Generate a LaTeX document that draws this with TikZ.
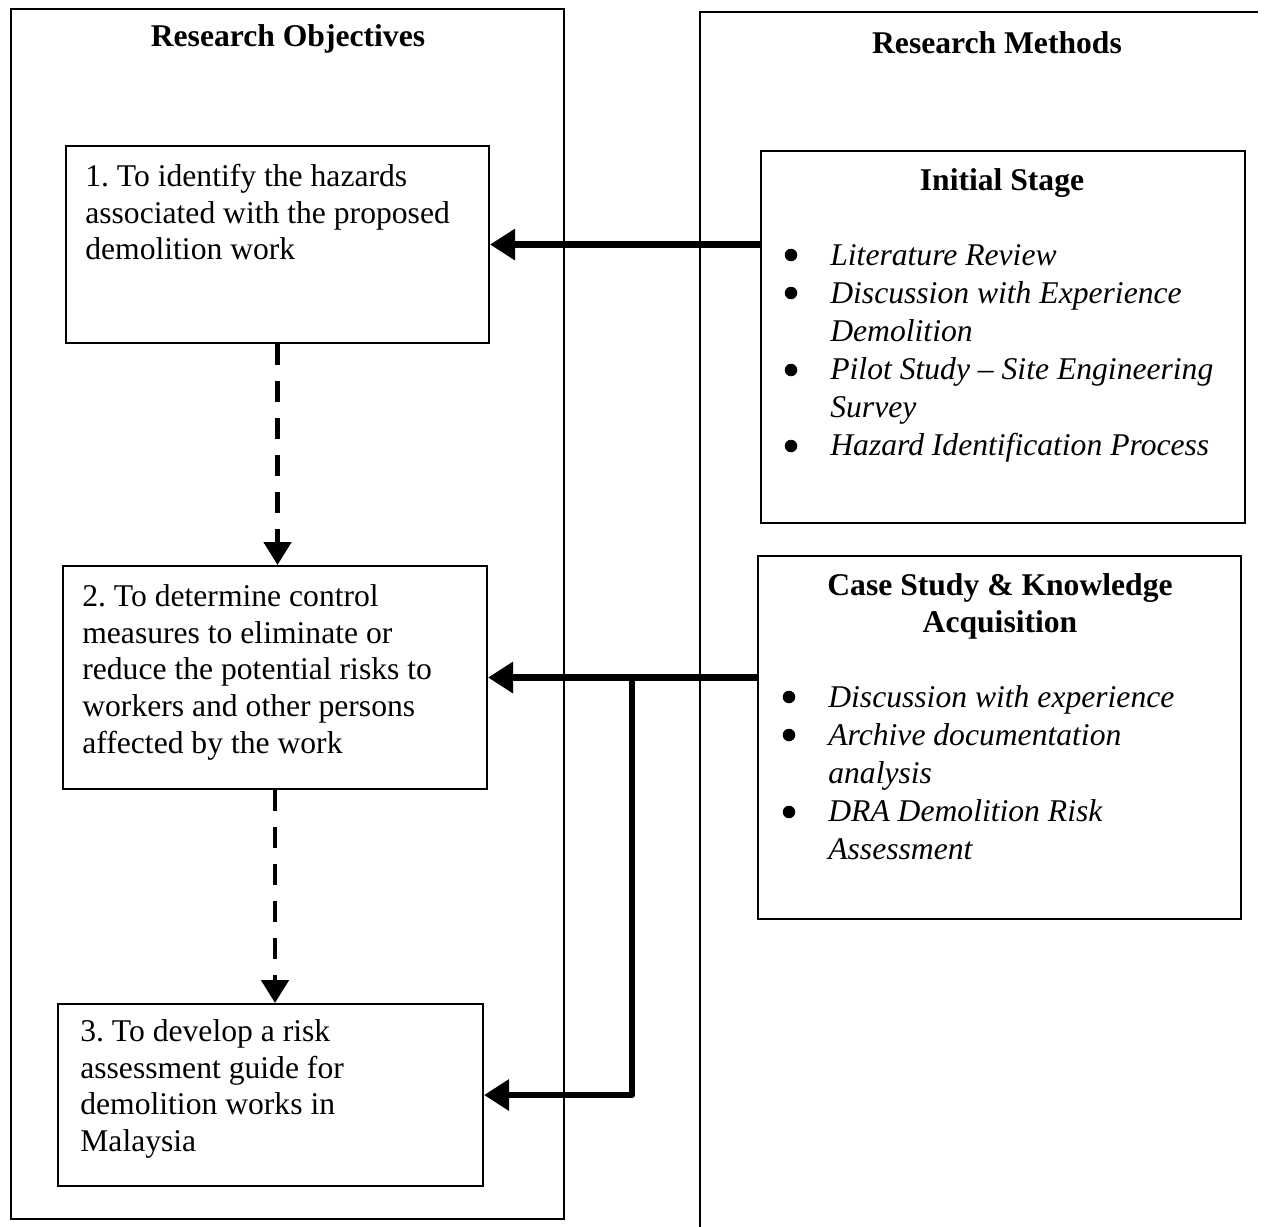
\documentclass[tikz,border=0pt]{standalone}
\usepackage{fontspec}
\setmainfont{Liberation Serif}
\usetikzlibrary{arrows.meta,calc}
\begin{document}
\begin{tikzpicture}[x=0.02cm,y=-0.02cm,
  panel/.style={line width=1.1pt},
  box/.style={draw,line width=1.2pt,inner sep=0pt,anchor=north west},
  txt/.style={inner sep=0pt,anchor=north west,align=left,font=\fontsize{18}{21}\selectfont},
  lst/.style={inner sep=0pt,anchor=north west,align=left,font=\fontsize{18}{21.7}\selectfont\itshape},
  ttl/.style={inner sep=0pt,font=\fontsize{18}{21}\selectfont\bfseries},
  bul/.style={fill=black},
  solidarrow/.style={line width=3.6pt,-{Triangle[length=0.5cm,width=0.6cm]},line join=round},
  dasharrow/.style={line width=2.8pt,dash pattern=on 0.42cm off 0.32cm,-{Triangle[length=0.46cm,width=0.54cm]}}
]
\useasboundingbox (0,0) rectangle (1265,1227);
% panels
\node[box,panel,minimum width=11.06cm,minimum height=24.2cm] (lp) at (10,8) {};
\draw[panel] (1258,12) -- (700,12) -- (700,1227);
\node[ttl,anchor=base] (rot) at (288,47) {Research Objectives};
\node[ttl,anchor=base] (rmt) at (997,53) {Research Methods};
% objective boxes
\node[box,minimum width=8.46cm,minimum height=3.94cm] (b1) at (65,145) {};
\node[box,minimum width=8.48cm,minimum height=4.46cm] (b2) at (62,565) {};
\node[box,minimum width=8.5cm,minimum height=3.64cm] (b3) at (57,1003) {};
\node[txt] (t1) at (85,160) {\strut 1.\ To identify the hazards\\associated with the proposed\\demolition work};
\node[txt] (t2) at (82,580) {\strut 2.\ To determine control\\measures to eliminate or\\reduce the potential risks to\\workers and other persons\\affected by the work};
\node[txt] (t3) at (80,1015) {\strut 3.\ To develop a risk\\assessment guide for\\demolition works in\\Malaysia};
% method boxes
\node[box,minimum width=9.68cm,minimum height=7.44cm] (is) at (760,150) {};
\node[box,minimum width=9.66cm,minimum height=7.26cm] (cs) at (757,555) {};
\node[ttl,anchor=base] (ist) at (1002,190) {Initial Stage};
\node[ttl,anchor=north,align=center] (cst) at (1000,569) {\strut Case Study \& Knowledge\\Acquisition};
\node[lst] (isl) at (830,238) {\strut Literature Review\\
Discussion with Experience\\
Demolition\\
Pilot Study – Site Engineering\\
Survey\\
Hazard Identification Process};
\node[lst] (csl) at (828,680) {\strut Discussion with experience\\
Archive documentation\\
analysis\\
DRA Demolition Risk\\
Assessment};
% bullets
\foreach \yy in {255,293,370,446} \fill[bul] (791,\yy) circle[radius=0.125cm];
\foreach \yy in {697,735,812} \fill[bul] (789,\yy) circle[radius=0.125cm];
% connectors
\draw[solidarrow] (b1.east -| is.west) -- (b1.east);
\draw[solidarrow] (b2.east -| cs.west) -- (b2.east);
\coordinate (j) at (632,676.5);
\draw[solidarrow] (j) |- (b3.east);
\draw[dasharrow] (b1.south) -- (b1.south |- b2.north);
\draw[dasharrow] (b2.south) -- (b2.south |- b3.north);
\end{tikzpicture}
\end{document}
